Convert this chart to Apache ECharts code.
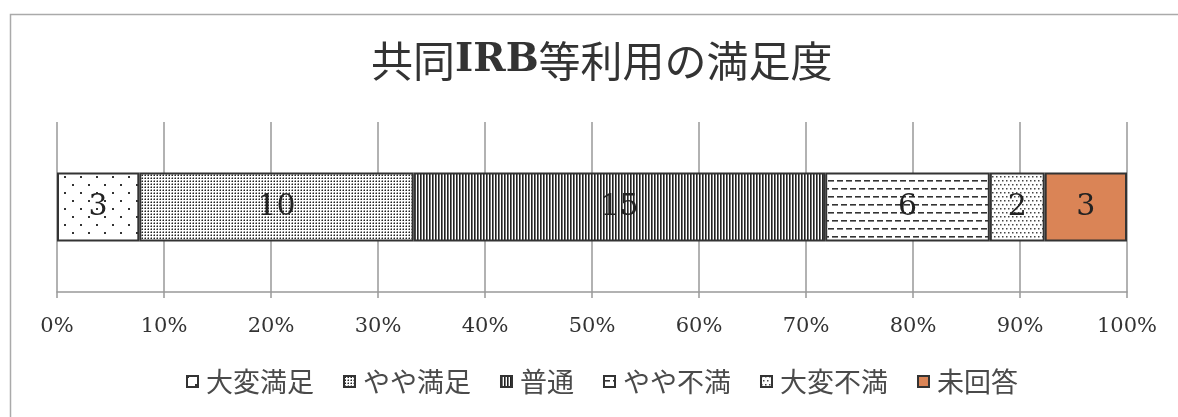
<!DOCTYPE html>
<html><head><meta charset="utf-8">
<script src="https://cdn.jsdelivr.net/npm/echarts@6/dist/echarts.min.js"></script>
<style>html,body{margin:0;padding:0;background:#fff}#c{width:1178px;height:417px}</style>
</head><body><div id="c"></div>
<script>
const titleText = '共同IRB等利用の満足度';
const seriesNames = ['大変満足', 'やや満足', '普通', 'やや不満', '大変不満', '未回答'];
const counts = [3, 10, 15, 6, 2, 3];
const tickLabels = ['0%','10%','20%','30%','40%','50%','60%','70%','80%','90%','100%'];

function pat(w, h, draw) {
  const c = document.createElement('canvas');
  c.width = w; c.height = h;
  const g = c.getContext('2d');
  g.fillStyle = '#fff'; g.fillRect(0, 0, w, h);
  draw(g);
  return { image: c, repeat: 'repeat' };
}
const fills = [
  pat(16, 16, g => { g.fillStyle = '#333'; g.fillRect(0, 0, 2, 2); g.fillRect(8, 8, 2, 2); }),
  pat(3, 3, g => { g.fillStyle = '#222'; g.fillRect(1, 1, 1, 1); g.fillStyle = '#888'; g.fillRect(0, 1, 1, 1); g.fillRect(1, 0, 1, 1); g.fillStyle = '#ddd'; g.fillRect(0, 0, 1, 1); }),
  pat(3, 1, g => { g.fillStyle = '#222'; g.fillRect(0, 0, 1, 1); g.fillStyle = '#777'; g.fillRect(1, 0, 1, 1); }),
  pat(18, 16, g => { g.fillStyle = '#333';
    g.fillRect(0, 4, 6, 1.6); g.fillRect(9, 4, 6, 1.6);
    g.fillRect(4, 12, 6, 1.6); g.fillRect(13, 12, 5, 1.6); g.fillRect(0, 12, 1, 1.6); }),
  pat(4, 8, g => { g.fillStyle = '#444'; g.fillRect(0, 0, 1.5, 1.5); g.fillRect(2, 4, 1.5, 1.5); }),
  '#DA8456'
];

const total = counts.reduce((a, b) => a + b, 0);
const series = seriesNames.map((name, i) => ({
  name, type: 'bar', stack: 'all', barWidth: 69,
  data: [counts[i] / total * 100],
  itemStyle: { color: fills[i], borderColor: '#333', borderWidth: 2 },
  label: {
    show: true, position: 'inside',
    formatter: () => String(counts[i]),
    fontFamily: 'DejaVu Serif', fontSize: 30, color: '#222'
  },
  emphasis: { disabled: true }
}));

const chart = echarts.init(document.getElementById('c'));
chart.setOption({
  animation: false,
  backgroundColor: '#fff',
  graphic: [{ type: 'rect', left: 8, top: 12, shape: { width: 1200, height: 430 },
    style: { fill: 'none', stroke: '#aaa', lineWidth: 1.5 }, silent: true }],
  title: {
    text: '{a|共同}{b|IRB}{a|等利用の満足度}', left: 366, top: 35,
    textStyle: { rich: {
      a: { fontFamily: 'Noto Sans CJK JP', fontWeight: 'normal', fontSize: 42, color: '#333' },
      b: { fontFamily: 'DejaVu Serif', fontWeight: 'bold', fontSize: 39, color: '#333' }
    } }
  },
  legend: {
    data: seriesNames, left: 181, top: 363, itemWidth: 11, itemHeight: 11, itemGap: 29,
    icon: 'rect',
    itemStyle: { borderColor: '#333', borderWidth: 2 },
    textStyle: { fontFamily: 'Noto Sans CJK JP', fontSize: 27, color: '#4a4a4a', padding: [0, 0, 0, 3] }
  },
  grid: { left: 57, right: 51, top: 122, bottom: 125 },
  xAxis: {
    type: 'value', min: 0, max: 100, interval: 10,
    axisLine: { show: true, lineStyle: { color: '#999', width: 1.5 } },
    axisTick: { show: true, length: 6, lineStyle: { color: '#999', width: 1.5 } },
    splitLine: { show: true, lineStyle: { color: '#999', width: 1.5 } },
    axisLabel: { formatter: v => tickLabels[Math.round(v / 10)], margin: 24,
      fontFamily: 'DejaVu Serif', fontSize: 21, color: '#333' }
  },
  yAxis: { type: 'category', data: [''], show: false },
  series
});
</script></body></html>
